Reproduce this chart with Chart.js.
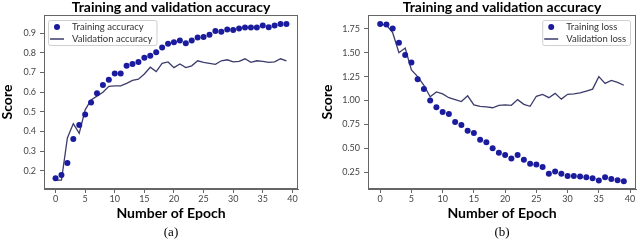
<!DOCTYPE html>
<html>
<head>
<meta charset="utf-8">
<script src="https://cdn.jsdelivr.net/npm/chart.js@4.4.0/dist/chart.umd.min.js"></script>
<style>
  body { margin: 0; background: #fff; }
  .panel { position: absolute; top: 0; width: 320px; height: 240px; }
</style>
</head>
<body>
<div class="panel" style="left:0"><canvas id="acc" width="320" height="240"></canvas></div>
<div class="panel" style="left:320px"><canvas id="loss" width="320" height="240"></canvas></div>
<script>
'use strict';

// data
const epochs = [0,1,2,3,4,5,6,7,8,9,10,11,12,13,14,15,16,17,18,19,20,21,22,23,24,25,26,27,28,29,30,31,32,33,34,35,36,37,38,39];

const trainAcc = [0.162,0.178,0.24,0.362,0.433,0.486,0.548,0.595,0.636,0.663,0.695,0.695,0.734,0.744,0.754,0.775,0.785,0.803,0.827,0.847,
  0.854,0.863,0.849,0.863,0.878,0.881,0.893,0.912,0.908,0.919,0.917,0.924,0.929,0.929,0.929,0.94,0.93,0.94,0.947,0.947];
const valAcc = [0.152,0.152,0.367,0.44,0.39,0.51,0.56,0.58,0.60,0.63,0.632,0.632,0.645,0.66,0.666,0.693,0.727,0.705,0.747,0.754,
  0.725,0.744,0.725,0.734,0.76,0.752,0.747,0.742,0.76,0.765,0.754,0.757,0.77,0.752,0.76,0.757,0.752,0.754,0.77,0.76];

const trainLoss = [1.80,1.795,1.753,1.605,1.477,1.397,1.222,1.12,1.0,0.93,0.88,0.86,0.775,0.745,0.685,0.66,0.59,0.565,0.50,0.455,
  0.43,0.395,0.43,0.38,0.34,0.33,0.305,0.235,0.257,0.235,0.21,0.21,0.205,0.197,0.187,0.163,0.197,0.18,0.166,0.155];
const valLoss = [1.80,1.79,1.71,1.50,1.55,1.32,1.25,1.16,1.04,1.09,1.07,1.03,1.01,0.99,1.05,0.955,0.94,0.935,0.925,0.95,
  0.955,0.95,1.01,0.96,0.94,1.045,1.065,1.03,1.075,1.015,1.065,1.07,1.08,1.10,1.12,1.25,1.18,1.21,1.19,1.16];

const xTicks = [0,5,10,15,20,25,30,35,40];
const accTicks = [0.2,0.3,0.4,0.5,0.6,0.7,0.8,0.9];
const lossTicks = [0.25,0.50,0.75,1.00,1.25,1.50,1.75];

// styles
const dotColor = '#1b1b9e';
const lineColor = '#3c3c6c';
const frameColor = '#666';
const sans = 'Lato, "Open Sans", sans-serif';

// frame round the plot (matplotlib draws all four spines)
const framePlugin = {
  id: 'frame',
  afterDraw(chart) {
    const a = chart.chartArea, ctx = chart.ctx;
    ctx.save();
    ctx.strokeStyle = frameColor;
    ctx.lineWidth = 1;
    ctx.strokeRect(Math.round(a.left) + 0.5, Math.round(a.top) + 0.5,
      Math.round(a.right - a.left) - 1, Math.round(a.bottom - a.top) - 1);
    ctx.restore();
  }
};

// legend inside the plot, with a light frame
const boxLegend = {
  id: 'boxLegend',
  afterDraw(chart, args, opts) {
    const ctx = chart.ctx, a = chart.chartArea;
    const sets = chart.data.datasets;
    ctx.save();
    ctx.font = '9.5px ' + sans;
    let tw = 0;
    sets.forEach(d => { tw = Math.max(tw, ctx.measureText(d.label).width); });
    const w = 9 + 14 + tw + 5, h = 25;
    const x0 = opts.side === 'right' ? a.right - 6 - w : a.left + 4;
    const y0 = a.top + (opts.top || 5);
    ctx.fillStyle = 'rgba(255,255,255,0.85)';
    ctx.strokeStyle = '#cfcfcf';
    ctx.lineWidth = 1;
    ctx.beginPath();
    ctx.roundRect(x0 + 0.5, y0 + 0.5, w, h, 2);
    ctx.fill();
    ctx.stroke();
    sets.forEach((d, i) => {
      const cy = y0 + 7 + i * 12;
      const cx = x0 + 9;
      if (d.showLine === false) {
        ctx.fillStyle = dotColor;
        ctx.beginPath();
        ctx.arc(cx, cy, 3, 0, Math.PI * 2);
        ctx.fill();
      } else {
        ctx.strokeStyle = lineColor;
        ctx.lineWidth = 1.5;
        ctx.beginPath();
        ctx.moveTo(cx - 7, cy);
        ctx.lineTo(cx + 7, cy);
        ctx.stroke();
      }
      ctx.fillStyle = '#333';
      ctx.textBaseline = 'middle';
      ctx.fillText(d.label, cx + 15, cy);
    });
    ctx.restore();
  }
};

function points(ys) {
  return epochs.map((e, i) => ({ x: e, y: ys[i] }));
}

function makeChart(id, cfg) {
  return new Chart(document.getElementById(id), {
    type: 'line',
    data: {
      datasets: [
        { label: cfg.trainLabel, data: points(cfg.train), showLine: false,
          pointRadius: 3, pointBackgroundColor: dotColor, pointBorderWidth: 0 },
        { label: cfg.valLabel, data: points(cfg.val), borderColor: lineColor,
          borderWidth: 1.3, pointRadius: 0, tension: 0 }
      ]
    },
    plugins: [framePlugin, boxLegend],
    options: {
      responsive: false,
      animation: false,
      devicePixelRatio: 1,
      layout: { padding: { left: 0, right: cfg.padRight, top: 0, bottom: 0 } },
      plugins: {
        legend: { display: false },
        tooltip: { enabled: false },
        boxLegend: { side: cfg.legendSide },
        title: {
          display: true, text: 'Training and validation accuracy', color: '#000',
          font: { family: sans, size: 14, weight: 'bold', lineHeight: 1 },
          padding: { top: 0, bottom: 1 }, fullSize: false
        },
        subtitle: {
          display: true, position: 'bottom', text: cfg.caption, color: '#000',
          font: { family: '"Liberation Serif", serif', size: 13, lineHeight: 1.2 },
          padding: { top: 0, bottom: 0 }, fullSize: false
        }
      },
      scales: {
        x: {
          type: 'linear', min: -1.95, max: 40.95,
          afterBuildTicks: s => { s.ticks = xTicks.map(v => ({ value: v })); },
          afterFit: s => { s.height = 35.4; },
          ticks: { color: '#444', font: { family: sans, size: 9 }, padding: 1, maxRotation: 0, autoSkip: false },
          grid: { drawOnChartArea: false, tickLength: 4, color: frameColor },
          border: { color: frameColor },
          title: { display: true, text: 'Number of Epoch', color: '#000',
            font: { family: sans, size: 14, weight: 'bold', lineHeight: 1.2 },
            padding: { top: 0, bottom: 3 } }
        },
        y: {
          min: cfg.yMin, max: cfg.yMax,
          afterBuildTicks: s => { s.ticks = cfg.yTicks.map(v => ({ value: v })); },
          afterFit: s => { s.width = cfg.yWidth; },
          ticks: { color: '#444', font: { family: sans, size: 9 }, padding: 4,
            callback: v => v.toFixed(cfg.decimals) },
          grid: { drawOnChartArea: false, tickLength: 4, color: frameColor },
          border: { color: frameColor },
          title: { display: true, text: 'Score', color: '#000',
            font: { family: sans, size: 14, weight: 'bold', lineHeight: 1 },
            padding: 0 }
        }
      }
    }
  });
}

makeChart('acc', {
  train: trainAcc, val: valAcc,
  trainLabel: 'Training accuracy', valLabel: 'Validation accuracy',
  yMin: 0.107, yMax: 0.993, yTicks: accTicks, decimals: 1,
  yWidth: 44, padRight: 22, legendSide: 'left', caption: '(a)'
});

makeChart('loss', {
  train: trainLoss, val: valLoss,
  trainLabel: 'Training loss', valLabel: 'Validation loss',
  yMin: 0.075, yMax: 1.895, yTicks: lossTicks, decimals: 2,
  yWidth: 48, padRight: 3, legendSide: 'right', caption: '(b)'
});
</script>
</body>
</html>
